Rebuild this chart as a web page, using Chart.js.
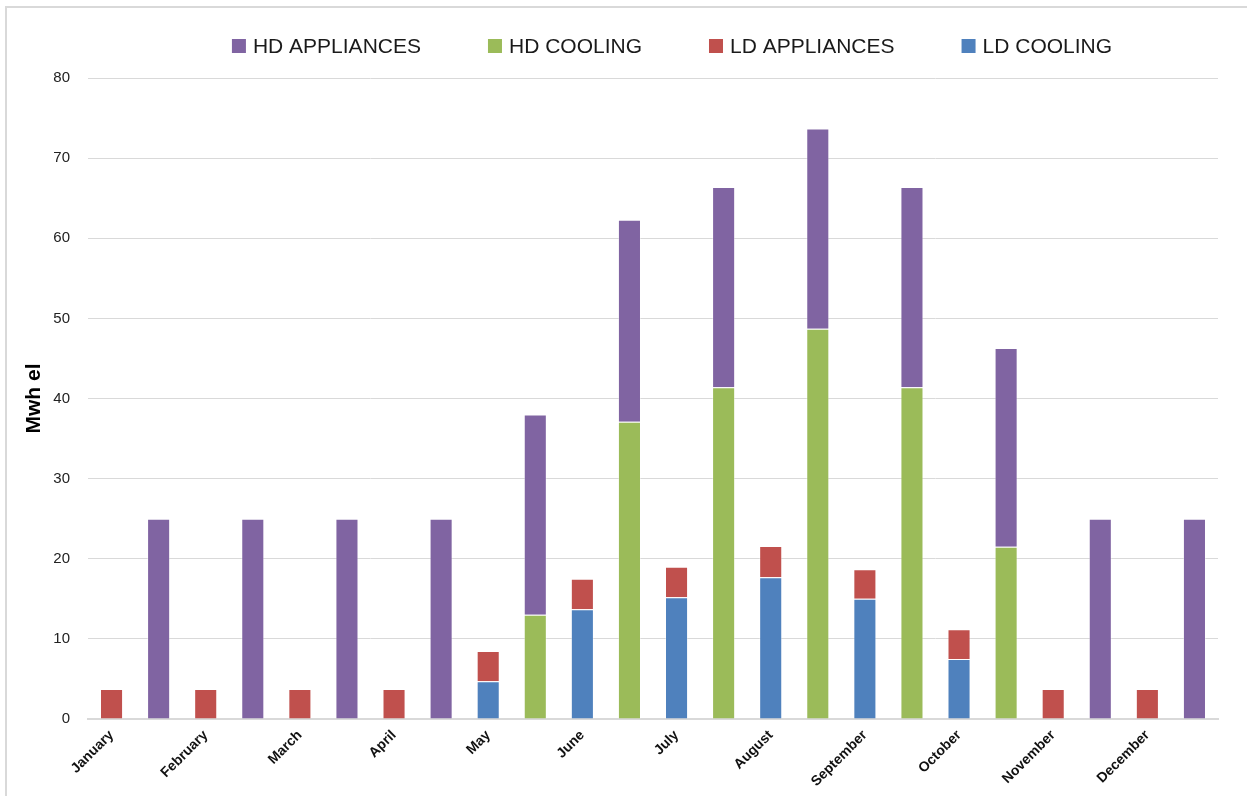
<!DOCTYPE html>
<html>
<head>
<meta charset="utf-8">
<script src="https://cdn.jsdelivr.net/npm/chart.js@4.4.1/dist/chart.umd.min.js"></script>
<style>
  html, body { margin: 0; padding: 0; background: #fff; }
  #wrap { position: relative; width: 1247px; height: 796px; overflow: hidden; }
  #frame { position: absolute; left: 5px; top: 6px; width: 1400px; height: 900px;
           border-top: 2px solid #d9d9d9; border-left: 2px solid #d9d9d9; pointer-events: none; }
  canvas { position: absolute; left: 0; top: 0; }
</style>
</head>
<body>
<div id="wrap">
  <canvas id="chart" width="1247" height="796"></canvas>
  <div id="frame"></div>
</div>
<script>
// monthly electricity demand, MWh el
const months = ['January', 'February', 'March', 'April', 'May', 'June',
                'July', 'August', 'September', 'October', 'November', 'December'];

const ldCooling    = [0, 0, 0, 0, 4.7, 13.7, 15.2, 17.7, 15.0, 7.5, 0, 0];
const ldAppliances = [3.75, 3.75, 3.75, 3.75, 3.8, 3.8, 3.8, 3.9, 3.7, 3.7, 3.75, 3.75];
const hdCooling    = [0, 0, 0, 0, 13.0, 37.1, 41.4, 48.7, 41.4, 21.5, 0, 0];
const hdAppliances = [25, 25, 25, 25, 25, 25.2, 25, 25, 25, 24.8, 25, 25];

const yTicks = [0, 10, 20, 30, 40, 50, 60, 70, 80];

const C_HD_APP  = '#8064A2';
const C_HD_COOL = '#9BBB59';
const C_LD_APP  = '#C0504D';
const C_LD_COOL = '#4F81BD';

// two bars per month: LD first, HD second; only LD slot carries the month name
const labels = months.flatMap(m => [m, '']);
const ldSlot = arr => arr.flatMap(v => [v, null]);
const hdSlot = arr => arr.flatMap(v => [null, v]);

const legendItems = [
  { text: 'HD APPLIANCES', color: C_HD_APP },
  { text: 'HD COOLING',    color: C_HD_COOL },
  { text: 'LD APPLIANCES', color: C_LD_APP },
  { text: 'LD COOLING',    color: C_LD_COOL },
];

// legend row drawn above the plot, centred with wide gaps between entries
const topLegend = {
  id: 'topLegend',
  afterDraw(chart) {
    const ctx = chart.ctx;
    const box = 14, gapText = 7, gapItem = 67, cy = 46, cx = 672;
    ctx.save();
    ctx.font = '21px "Liberation Sans", Arial, sans-serif';
    ctx.textBaseline = 'middle';
    const widths = legendItems.map(it => box + gapText + ctx.measureText(it.text).width);
    const total = widths.reduce((a, b) => a + b, 0) + gapItem * (legendItems.length - 1);
    let x = cx - total / 2;
    legendItems.forEach((it, i) => {
      ctx.fillStyle = it.color;
      ctx.fillRect(x, cy - box / 2, box, box);
      ctx.fillStyle = '#1a1a1a';
      ctx.fillText(it.text, x + box + gapText, cy + 1);
      x += widths[i] + gapItem;
    });
    ctx.restore();
  }
};

const bar = (label, data, color) => ({
  label, data,
  backgroundColor: color,
  borderColor: 'rgba(255,255,255,0.35)',
  borderWidth: 1,
  stack: 'all',
  categoryPercentage: 1.0,
  barPercentage: 0.49,
});

new Chart(document.getElementById('chart'), {
  type: 'bar',
  data: {
    labels,
    datasets: [
      bar('LD COOLING',    ldSlot(ldCooling),    C_LD_COOL),
      bar('LD APPLIANCES', ldSlot(ldAppliances), C_LD_APP),
      bar('HD COOLING',    hdSlot(hdCooling),    C_HD_COOL),
      bar('HD APPLIANCES', hdSlot(hdAppliances), C_HD_APP),
    ],
  },
  options: {
    responsive: false,
    animation: false,
    layout: { padding: { top: 78, right: 29, bottom: 0, left: 0 } },
    plugins: {
      legend: { display: false },
      tooltip: { enabled: false },
    },
    scales: {
      x: {
        stacked: true,
        grid: { display: false, drawTicks: false },
        border: { display: true, color: '#d9d9d9', width: 2 },
        ticks: {
          autoSkip: false,
          minRotation: 45,
          maxRotation: 45,
          padding: 8,
          color: '#111',
          font: { family: '"Liberation Sans", Arial, sans-serif', size: 14, weight: 'bold' },
        },
        afterFit: s => { s.height = 77; },
      },
      y: {
        stacked: true,
        min: 0,
        max: 80,
        afterBuildTicks: s => { s.ticks = yTicks.map(v => ({ value: v })); },
        grid: { color: '#d9d9d9', lineWidth: 1, drawTicks: false },
        border: { display: false },
        ticks: {
          padding: 18,
          color: '#222',
          font: { family: '"Liberation Sans", Arial, sans-serif', size: 15 },
        },
        title: {
          display: true,
          text: 'Mwh el',
          color: '#000',
          padding: { top: 22, bottom: 0 },
          font: { family: '"Liberation Sans", Arial, sans-serif', size: 21, weight: 'bold' },
        },
        afterFit: s => { s.width = 88; },
      },
    },
  },
  plugins: [topLegend],
});
</script>
</body>
</html>
